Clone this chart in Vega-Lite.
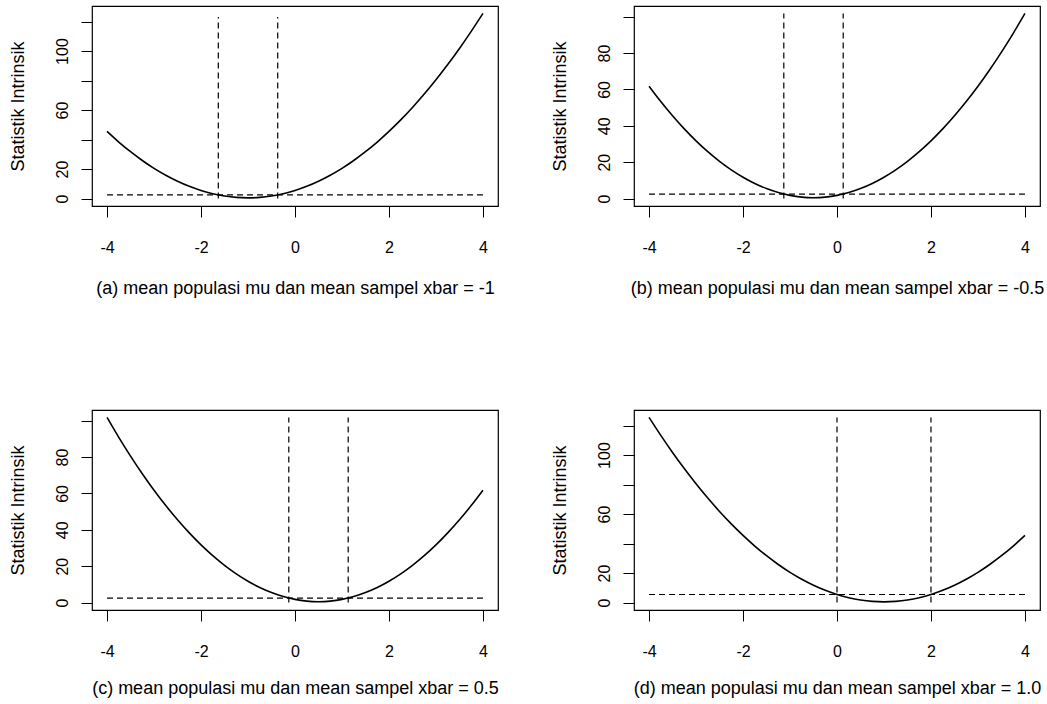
{
  "$schema": "https://vega.github.io/schema/vega-lite/v6.json",
  "padding": {"left": 8, "top": 5, "right": 5, "bottom": 5},
  "background": "white",
  "config": {
    "font": "Liberation Sans",
    "view": {"stroke": "black", "strokeWidth": 1.2},
    "axis": {
      "domain": false, "grid": false, "tickSize": 11, "tickColor": "black", "tickWidth": 1,
      "labelColor": "black", "labelFontSize": 16, "labelFont": "Liberation Sans",
      "titleFontSize": 18, "titleFontWeight": "normal", "titleColor": "black", "titleFont": "Liberation Sans",
      "labelOverlap": false, "labelFlush": false
    },
    "axisX": {"labelPadding": 22, "labelBaseline": "top", "titleX": 203, "titleY": 82, "titleAlign": "center", "titleBaseline": "middle", "titleAngle": 0},
    "axisY": {"labelAngle": -90, "labelAlign": "center", "labelBaseline": "middle", "labelPadding": 19, "titleAngle": -90, "titleX": -74, "titleY": 100, "titleAlign": "center", "titleBaseline": "middle"}
  },
  "datasets": {
    "a": [{"x":-4,"y":45.5},{"x":-3.75,"y":38.3125},{"x":-3.5,"y":31.75},{"x":-3.25,"y":25.8125},{"x":-3,"y":20.5},{"x":-2.75,"y":15.8125},{"x":-2.5,"y":11.75},{"x":-2.25,"y":8.3125},{"x":-2,"y":5.5},{"x":-1.75,"y":3.3125},{"x":-1.5,"y":1.75},{"x":-1.25,"y":0.8125},{"x":-1,"y":0.5},{"x":-0.75,"y":0.8125},{"x":-0.5,"y":1.75},{"x":-0.25,"y":3.3125},{"x":0,"y":5.5},{"x":0.25,"y":8.3125},{"x":0.5,"y":11.75},{"x":0.75,"y":15.8125},{"x":1,"y":20.5},{"x":1.25,"y":25.8125},{"x":1.5,"y":31.75},{"x":1.75,"y":38.3125},{"x":2,"y":45.5},{"x":2.25,"y":53.3125},{"x":2.5,"y":61.75},{"x":2.75,"y":70.8125},{"x":3,"y":80.5},{"x":3.25,"y":90.8125},{"x":3.5,"y":101.75},{"x":3.75,"y":113.3125},{"x":4,"y":125.5}],
    "b": [{"x":-4,"y":61.75},{"x":-3.75,"y":53.3125},{"x":-3.5,"y":45.5},{"x":-3.25,"y":38.3125},{"x":-3,"y":31.75},{"x":-2.75,"y":25.8125},{"x":-2.5,"y":20.5},{"x":-2.25,"y":15.8125},{"x":-2,"y":11.75},{"x":-1.75,"y":8.3125},{"x":-1.5,"y":5.5},{"x":-1.25,"y":3.3125},{"x":-1,"y":1.75},{"x":-0.75,"y":0.8125},{"x":-0.5,"y":0.5},{"x":-0.25,"y":0.8125},{"x":0,"y":1.75},{"x":0.25,"y":3.3125},{"x":0.5,"y":5.5},{"x":0.75,"y":8.3125},{"x":1,"y":11.75},{"x":1.25,"y":15.8125},{"x":1.5,"y":20.5},{"x":1.75,"y":25.8125},{"x":2,"y":31.75},{"x":2.25,"y":38.3125},{"x":2.5,"y":45.5},{"x":2.75,"y":53.3125},{"x":3,"y":61.75},{"x":3.25,"y":70.8125},{"x":3.5,"y":80.5},{"x":3.75,"y":90.8125},{"x":4,"y":101.75}],
    "c": [{"x":-4,"y":101.75},{"x":-3.75,"y":90.8125},{"x":-3.5,"y":80.5},{"x":-3.25,"y":70.8125},{"x":-3,"y":61.75},{"x":-2.75,"y":53.3125},{"x":-2.5,"y":45.5},{"x":-2.25,"y":38.3125},{"x":-2,"y":31.75},{"x":-1.75,"y":25.8125},{"x":-1.5,"y":20.5},{"x":-1.25,"y":15.8125},{"x":-1,"y":11.75},{"x":-0.75,"y":8.3125},{"x":-0.5,"y":5.5},{"x":-0.25,"y":3.3125},{"x":0,"y":1.75},{"x":0.25,"y":0.8125},{"x":0.5,"y":0.5},{"x":0.75,"y":0.8125},{"x":1,"y":1.75},{"x":1.25,"y":3.3125},{"x":1.5,"y":5.5},{"x":1.75,"y":8.3125},{"x":2,"y":11.75},{"x":2.25,"y":15.8125},{"x":2.5,"y":20.5},{"x":2.75,"y":25.8125},{"x":3,"y":31.75},{"x":3.25,"y":38.3125},{"x":3.5,"y":45.5},{"x":3.75,"y":53.3125},{"x":4,"y":61.75}],
    "d": [{"x":-4,"y":125.5},{"x":-3.75,"y":113.3125},{"x":-3.5,"y":101.75},{"x":-3.25,"y":90.8125},{"x":-3,"y":80.5},{"x":-2.75,"y":70.8125},{"x":-2.5,"y":61.75},{"x":-2.25,"y":53.3125},{"x":-2,"y":45.5},{"x":-1.75,"y":38.3125},{"x":-1.5,"y":31.75},{"x":-1.25,"y":25.8125},{"x":-1,"y":20.5},{"x":-0.75,"y":15.8125},{"x":-0.5,"y":11.75},{"x":-0.25,"y":8.3125},{"x":0,"y":5.5},{"x":0.25,"y":3.3125},{"x":0.5,"y":1.75},{"x":0.75,"y":0.8125},{"x":1,"y":0.5},{"x":1.25,"y":0.8125},{"x":1.5,"y":1.75},{"x":1.75,"y":3.3125},{"x":2,"y":5.5},{"x":2.25,"y":8.3125},{"x":2.5,"y":11.75},{"x":2.75,"y":15.8125},{"x":3,"y":20.5},{"x":3.25,"y":25.8125},{"x":3.5,"y":31.75},{"x":3.75,"y":38.3125},{"x":4,"y":45.5}]
  },
  "columns": 2,
  "bounds": "flush",
  "spacing": {"row": 204, "column": 136},
  "resolve": {"scale": {"x": "independent", "y": "independent"}, "axis": {"x": "independent", "y": "independent"}},
  "concat": [
    {
      "width": 406, "height": 200,
      "layer": [
        {"data": {"name": "a"},
         "mark": {"type": "line", "color": "black", "strokeWidth": 1.6, "interpolate": "monotone"},
         "encoding": {
           "x": {"field": "x", "type": "quantitative", "scale": {"domain": [-4.32, 4.32], "nice": false, "zero": false},
                 "axis": {"values": [-4, -2, 0, 2, 4], "labelExpr": "'' + datum.value", "title": "(a) mean populasi mu dan mean sampel xbar = -1"}},
           "y": {"field": "y", "type": "quantitative", "scale": {"domain": [-5.02, 130.52], "nice": false, "zero": false},
                 "axis": {"values": [0, 20, 40, 60, 80, 100, 120], "labelExpr": "datum.value == 40 || datum.value == 80 || datum.value == 120 ? '' : '' + datum.value", "title": "Statistik Intrinsik"}}
         }},
        {"data": {"values": [{"x": -1.632, "y": 0, "y2": 123}, {"x": -0.368, "y": 0, "y2": 123}]},
         "mark": {"type": "rule", "color": "black", "strokeWidth": 1.2, "strokeDash": [6, 4]},
         "encoding": {
           "x": {"field": "x", "type": "quantitative", "axis": {"values": [-4, -2, 0, 2, 4], "labelExpr": "'' + datum.value", "title": "(a) mean populasi mu dan mean sampel xbar = -1"}},
           "y": {"field": "y", "type": "quantitative", "axis": {"values": [0, 20, 40, 60, 80, 100, 120], "labelExpr": "datum.value == 40 || datum.value == 80 || datum.value == 120 ? '' : '' + datum.value", "title": "Statistik Intrinsik"}},
           "y2": {"field": "y2"}}},
        {"data": {"values": [{"x": -4, "x2": 4, "y": 2.5}]},
         "mark": {"type": "rule", "color": "black", "strokeWidth": 1.2, "strokeDash": [6, 4]},
         "encoding": {
           "x": {"field": "x", "type": "quantitative", "axis": {"values": [-4, -2, 0, 2, 4], "labelExpr": "'' + datum.value", "title": "(a) mean populasi mu dan mean sampel xbar = -1"}},
           "x2": {"field": "x2"},
           "y": {"field": "y", "type": "quantitative", "axis": {"values": [0, 20, 40, 60, 80, 100, 120], "labelExpr": "datum.value == 40 || datum.value == 80 || datum.value == 120 ? '' : '' + datum.value", "title": "Statistik Intrinsik"}}}}
      ]
    },
    {
      "width": 406, "height": 200,
      "layer": [
        {"data": {"name": "b"},
         "mark": {"type": "line", "color": "black", "strokeWidth": 1.6, "interpolate": "monotone"},
         "encoding": {
           "x": {"field": "x", "type": "quantitative", "scale": {"domain": [-4.32, 4.32], "nice": false, "zero": false},
                 "axis": {"values": [-4, -2, 0, 2, 4], "labelExpr": "'' + datum.value", "title": "(b) mean populasi mu dan mean sampel xbar = -0.5"}},
           "y": {"field": "y", "type": "quantitative", "scale": {"domain": [-4.07, 105.82], "nice": false, "zero": false},
                 "axis": {"values": [0, 20, 40, 60, 80, 100], "labelExpr": "datum.value == 100 ? '' : '' + datum.value", "title": "Statistik Intrinsik"}}
         }},
        {"data": {"values": [{"x": -1.132, "y": 0, "y2": 101.75}, {"x": 0.132, "y": 0, "y2": 101.75}]},
         "mark": {"type": "rule", "color": "black", "strokeWidth": 1.2, "strokeDash": [6, 4]},
         "encoding": {
           "x": {"field": "x", "type": "quantitative", "axis": {"values": [-4, -2, 0, 2, 4], "labelExpr": "'' + datum.value", "title": "(b) mean populasi mu dan mean sampel xbar = -0.5"}},
           "y": {"field": "y", "type": "quantitative", "axis": {"values": [0, 20, 40, 60, 80, 100], "labelExpr": "datum.value == 100 ? '' : '' + datum.value", "title": "Statistik Intrinsik"}},
           "y2": {"field": "y2"}}},
        {"data": {"values": [{"x": -4, "x2": 4, "y": 2.5}]},
         "mark": {"type": "rule", "color": "black", "strokeWidth": 1.2, "strokeDash": [6, 4]},
         "encoding": {
           "x": {"field": "x", "type": "quantitative", "axis": {"values": [-4, -2, 0, 2, 4], "labelExpr": "'' + datum.value", "title": "(b) mean populasi mu dan mean sampel xbar = -0.5"}},
           "x2": {"field": "x2"},
           "y": {"field": "y", "type": "quantitative", "axis": {"values": [0, 20, 40, 60, 80, 100], "labelExpr": "datum.value == 100 ? '' : '' + datum.value", "title": "Statistik Intrinsik"}}}}
      ]
    },
    {
      "width": 406, "height": 200,
      "layer": [
        {"data": {"name": "c"},
         "mark": {"type": "line", "color": "black", "strokeWidth": 1.6, "interpolate": "monotone"},
         "encoding": {
           "x": {"field": "x", "type": "quantitative", "scale": {"domain": [-4.32, 4.32], "nice": false, "zero": false},
                 "axis": {"values": [-4, -2, 0, 2, 4], "labelExpr": "'' + datum.value", "title": "(c) mean populasi mu dan mean sampel xbar = 0.5", "titleY": 78}},
           "y": {"field": "y", "type": "quantitative", "scale": {"domain": [-4.07, 105.82], "nice": false, "zero": false},
                 "axis": {"values": [0, 20, 40, 60, 80, 100], "labelExpr": "datum.value == 100 ? '' : '' + datum.value", "title": "Statistik Intrinsik"}}
         }},
        {"data": {"values": [{"x": -0.132, "y": 0, "y2": 101.75}, {"x": 1.132, "y": 0, "y2": 101.75}]},
         "mark": {"type": "rule", "color": "black", "strokeWidth": 1.2, "strokeDash": [6, 4]},
         "encoding": {
           "x": {"field": "x", "type": "quantitative", "axis": {"values": [-4, -2, 0, 2, 4], "labelExpr": "'' + datum.value", "title": "(c) mean populasi mu dan mean sampel xbar = 0.5", "titleY": 78}},
           "y": {"field": "y", "type": "quantitative", "axis": {"values": [0, 20, 40, 60, 80, 100], "labelExpr": "datum.value == 100 ? '' : '' + datum.value", "title": "Statistik Intrinsik"}},
           "y2": {"field": "y2"}}},
        {"data": {"values": [{"x": -4, "x2": 4, "y": 2.5}]},
         "mark": {"type": "rule", "color": "black", "strokeWidth": 1.2, "strokeDash": [6, 4]},
         "encoding": {
           "x": {"field": "x", "type": "quantitative", "axis": {"values": [-4, -2, 0, 2, 4], "labelExpr": "'' + datum.value", "title": "(c) mean populasi mu dan mean sampel xbar = 0.5", "titleY": 78}},
           "x2": {"field": "x2"},
           "y": {"field": "y", "type": "quantitative", "axis": {"values": [0, 20, 40, 60, 80, 100], "labelExpr": "datum.value == 100 ? '' : '' + datum.value", "title": "Statistik Intrinsik"}}}}
      ]
    },
    {
      "width": 406, "height": 200,
      "layer": [
        {"data": {"name": "d"},
         "mark": {"type": "line", "color": "black", "strokeWidth": 1.6, "interpolate": "monotone"},
         "encoding": {
           "x": {"field": "x", "type": "quantitative", "scale": {"domain": [-4.32, 4.32], "nice": false, "zero": false},
                 "axis": {"values": [-4, -2, 0, 2, 4], "labelExpr": "'' + datum.value", "title": "(d) mean populasi mu dan mean sampel xbar = 1.0", "titleY": 78}},
           "y": {"field": "y", "type": "quantitative", "scale": {"domain": [-5.02, 130.52], "nice": false, "zero": false},
                 "axis": {"values": [0, 20, 40, 60, 80, 100, 120], "labelExpr": "datum.value == 40 || datum.value == 80 || datum.value == 120 ? '' : '' + datum.value", "title": "Statistik Intrinsik"}}
         }},
        {"data": {"values": [{"x": 0, "y": 0, "y2": 125.5}, {"x": 2, "y": 0, "y2": 125.5}]},
         "mark": {"type": "rule", "color": "black", "strokeWidth": 1.2, "strokeDash": [6, 4]},
         "encoding": {
           "x": {"field": "x", "type": "quantitative", "axis": {"values": [-4, -2, 0, 2, 4], "labelExpr": "'' + datum.value", "title": "(d) mean populasi mu dan mean sampel xbar = 1.0", "titleY": 78}},
           "y": {"field": "y", "type": "quantitative", "axis": {"values": [0, 20, 40, 60, 80, 100, 120], "labelExpr": "datum.value == 40 || datum.value == 80 || datum.value == 120 ? '' : '' + datum.value", "title": "Statistik Intrinsik"}},
           "y2": {"field": "y2"}}},
        {"data": {"values": [{"x": -4, "x2": 4, "y": 5.5}]},
         "mark": {"type": "rule", "color": "black", "strokeWidth": 1.2, "strokeDash": [6, 4]},
         "encoding": {
           "x": {"field": "x", "type": "quantitative", "axis": {"values": [-4, -2, 0, 2, 4], "labelExpr": "'' + datum.value", "title": "(d) mean populasi mu dan mean sampel xbar = 1.0", "titleY": 78}},
           "x2": {"field": "x2"},
           "y": {"field": "y", "type": "quantitative", "axis": {"values": [0, 20, 40, 60, 80, 100, 120], "labelExpr": "datum.value == 40 || datum.value == 80 || datum.value == 120 ? '' : '' + datum.value", "title": "Statistik Intrinsik"}}}}
      ]
    }
  ]
}
